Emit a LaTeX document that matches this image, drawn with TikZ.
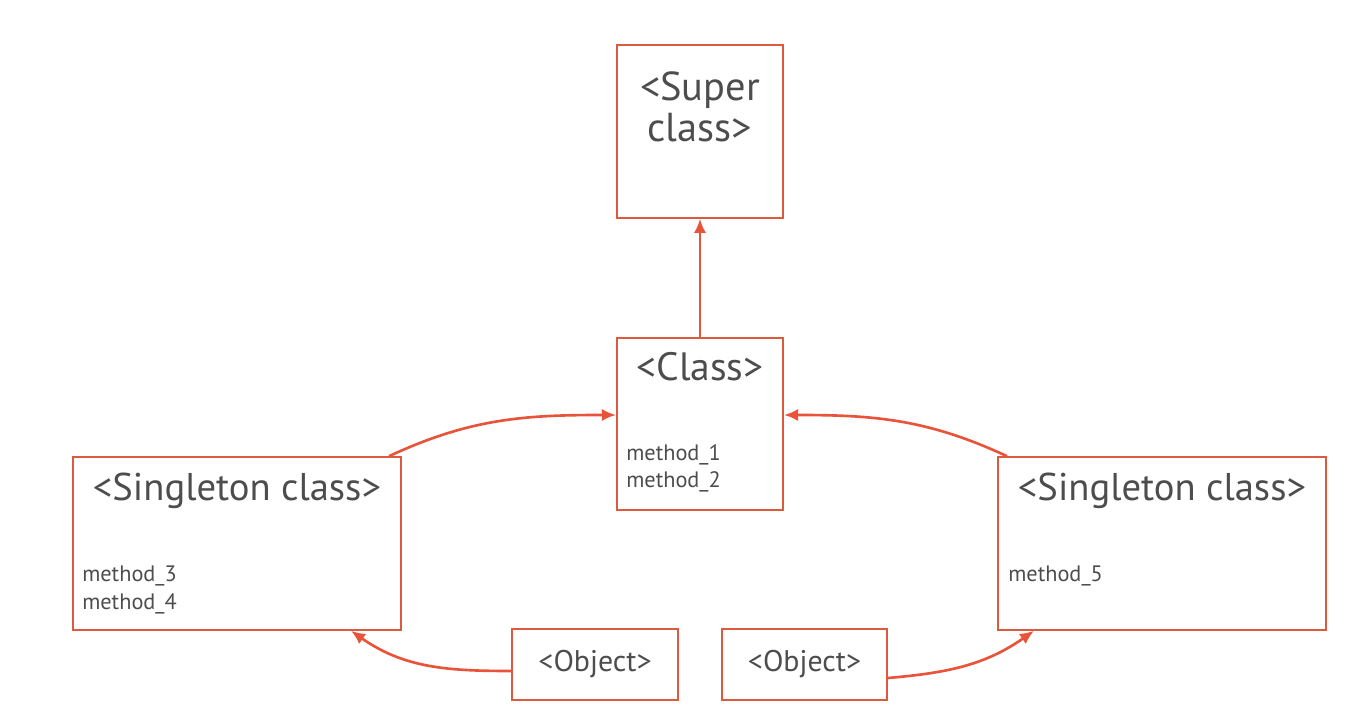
\documentclass[tikz,border=0pt]{standalone}
\usepackage{fontspec}
\setmainfont{PT Sans}
\usepackage{xcolor}
\usepackage{tikz}
\usetikzlibrary{arrows.meta}
\usetikzlibrary{positioning}
\definecolor{boxred}{HTML}{DC5A3E}
\definecolor{linkred}{HTML}{E8533A}
\definecolor{textgray}{HTML}{4D4D4D}
\tikzset{
    classbox/.style={
      rectangle,
      draw=boxred, line width=1.2pt,
      inner sep=0pt,
      minimum width=3.32cm,
      minimum height=3.45cm,
      text=textgray,
    },
    wide/.style={minimum width=6.56cm},
    objbox/.style={
      classbox,
      minimum height=1.42cm,
      font=\fontsize{17}{20}\selectfont,
    },
    title/.style={
      anchor=base,
      inner sep=0pt,
      text=textgray,
      font=\fontsize{22.5}{22.5}\selectfont,
    },
    methods/.style={
      anchor=base west,
      align=left,
      inner sep=0pt,
      text=textgray,
      font=\fontsize{12.7}{15.6}\selectfont,
    },
}

\begin{document}
\begin{tikzpicture}[->,>={Latex[length=8pt,width=7pt]},
    link/.style={color=linkred, line width=1.5pt}]

    \useasboundingbox (-14,-5.96) rectangle (13.4,8.48);

    \node[classbox] (CLASS) {};

    \node[classbox,
    above of=CLASS,
    node distance=5.85cm] (SUPER) {};

    \node[classbox, wide,
    left of=CLASS,
    node distance=9.26cm, yshift=-2.39cm] (SINGL) {};

    \node[classbox, wide,
    right of=CLASS,
    node distance=9.24cm, yshift=-2.39cm] (SINGR) {};

    \node[objbox,
    below of=CLASS,
    node distance=4.81cm, xshift=-2.1cm] (OBJL) {<Object>};

    \node[objbox, minimum width=3.3cm,
    below of=CLASS,
    node distance=4.81cm, xshift=2.09cm] (OBJR) {<Object>};

    % texts inside the boxes (base = last line)
    \node[title, align=center, font=\fontsize{23}{23}\selectfont]
    (SUPERname) at ([yshift=-1.94cm]SUPER.north) {<Super\\class>};

    \node[title] (CLASSname) at ([yshift=-0.88cm]CLASS.north) {<Class>};
    \node[methods] (CLASSmeth) at ([xshift=0.2cm, yshift=-3.02cm]CLASS.north west)
    {method\_1\\method\_2};

    \node[title, font=\fontsize{22}{22}\selectfont]
    (SINGLname) at ([yshift=-0.88cm]SINGL.north) {<Singleton class>};
    \node[methods] (SINGLmeth) at ([xshift=0.2cm, yshift=-3.06cm]SINGL.north west)
    {method\_3\\method\_4};

    \node[title, font=\fontsize{22}{22}\selectfont]
    (SINGRname) at ([yshift=-0.88cm]SINGR.north) {<Singleton class>};
    \node[methods] (SINGRmeth) at ([xshift=0.22cm, yshift=-2.5cm]SINGR.north west)
    {method\_5};

    \path
    (CLASS) edge[link] (SUPER)

    ([xshift=-0.26cm]SINGL.north east) edge[link, out=25, in=180]
    ([yshift=0.18cm]CLASS.west)

    ([xshift=0.2cm]SINGR.north west) edge[link, out=155, in=0]
    ([yshift=0.18cm]CLASS.east)

    ([yshift=-0.13cm]OBJL.west) edge[link, out=180, in=-35]
    ([xshift=-1.02cm]SINGL.south east)

    ([yshift=-0.27cm]OBJR.east) edge[link, out=5, in=-145]
    ([xshift=0.74cm]SINGR.south west);

\end{tikzpicture}
\end{document}
